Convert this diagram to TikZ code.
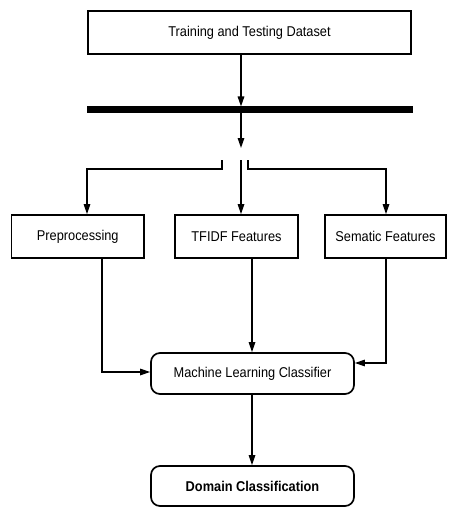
\documentclass[tikz,border=0pt]{standalone}
\usepackage{fontspec}
\setmainfont[FakeStretch=0.9]{Liberation Sans}
\usetikzlibrary{arrows.meta}
\begin{document}
\begin{tikzpicture}[x=1pt,y=-1pt,
  box/.style={draw, line width=1.7pt, inner sep=0pt, font=\fontsize{14.2}{16}\selectfont},
  rbox/.style={box, rounded corners=9pt},
  wire/.style={line width=1.4pt},
  arr/.style={wire, -{Triangle[length=10pt,width=6.5pt]}}]
\useasboundingbox (0,0) rectangle (448,508);

% dataset and the thick splitting bar
\node[box, minimum width=323pt, minimum height=43pt] (top) at (249.5,32.5) {Training and Testing Dataset};
\node[fill=black, inner sep=0pt, outer sep=0pt, minimum width=326pt, minimum height=7pt] (bar) at (250,110) {};

% feature extraction stages
\node[box, minimum width=132.5pt, minimum height=43pt] (pre) at (77.75,236.5) {Preprocessing};
\node[box, minimum width=123pt, minimum height=43pt] (tfidf) at (236.5,236.5) {TFIDF Features};
\node[box, minimum width=121pt, minimum height=43pt] (sem) at (385.5,236.5) {Sematic Features};

% classifier and result
\node[rbox, minimum width=203pt, minimum height=41pt] (ml) at (252.5,373.5) {Machine Learning Classifier};
\node[rbox, minimum width=203pt, minimum height=40pt] (dom) at (252.5,486) {\bfseries Domain Classification};

% fork points below the bar
\coordinate (fork) at (241,148);
\coordinate (lstub) at (222,160);
\coordinate (mstub) at (241,160);
\coordinate (rstub) at (248,160);

\draw[arr] (top.south -| 241,0) -- (bar.north -| 241,0);
\draw[arr] (bar.south -| 241,0) -- (fork);
\draw[arr] (lstub) -- ++(0,9) -| (pre.north -| 87,0);
\draw[arr] (mstub) -- (tfidf.north -| 241,0);
\draw[arr] (rstub) -- ++(0,9) -| (sem.north -| 386,0);

% inputs to the classifier
\draw[arr] (pre.south -| 102,0) |- ([yshift=1.5pt]ml.west);
\draw[arr] (tfidf.south -| 252,0) -- (ml.north -| 252,0);
\draw[arr] (sem.south -| 386,0) |- ([yshift=10.5pt]ml.east);
\draw[arr] (ml.south -| 252,0) -- (dom.north -| 252,0);
\end{tikzpicture}
\end{document}
